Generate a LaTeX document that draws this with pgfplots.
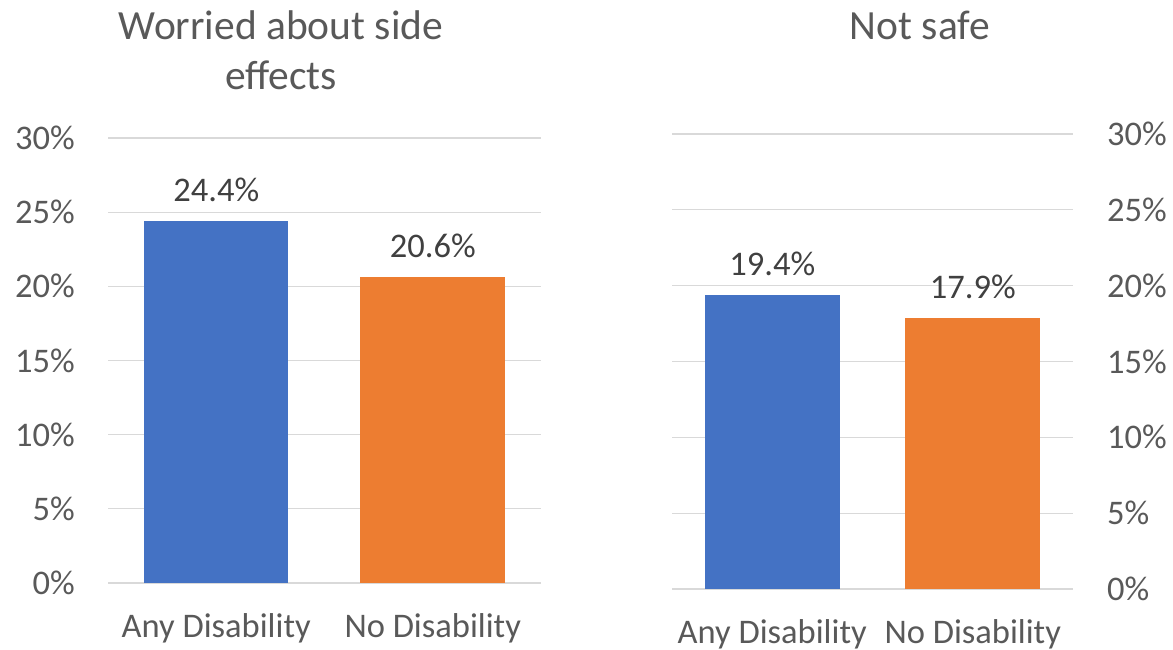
\documentclass[border=0pt]{standalone}
\usepackage{fontspec}
\setmainfont{Carlito}
\usepackage{pgfplots}
\pgfplotsset{compat=1.18}
\definecolor{xblue}{HTML}{4472C4}
\definecolor{xorange}{HTML}{ED7D31}
\definecolor{txtc}{HTML}{595959}
\definecolor{lblc}{HTML}{404040}
\definecolor{gridc}{HTML}{D9D9D9}
\pgfplotsset{
  panel/.style={
    scale only axis,
    ymin=0, ymax=30,
    ytick={0,5,10,15,20,25,30},
    yticklabels={0\%,5\%,10\%,15\%,20\%,25\%,30\%},
    xmin=-0.5, xmax=1.5,
    xtick={0,1},
    xticklabels={Any Disability,No Disability},
    axis line style={draw=none},
    major tick length=0pt,
    ymajorgrids,
    grid style={gridc, line width=1.2pt},
    tick label style={font=\fontsize{34.5}{41}\selectfont, text=txtc, inner sep=0pt},
    xticklabel style={anchor=base, yshift=-55pt},
    /pgf/number format/assume math mode=true,
    nodes near coords={\pgfmathprintnumber[fixed,fixed zerofill,precision=1]{\pgfplotspointmeta}\%},
    every node near coord/.append style={font=\fontsize{34.5}{41}\selectfont, text=lblc, inner sep=0pt, yshift=19pt},
  }
}
\begin{document}
\begin{tikzpicture}
\path[use as bounding box] (0pt,0pt) rectangle (1173pt,650pt);
% left panel
\begin{axis}[panel,
  at={(108pt,67pt)}, anchor=south west,
  width=433pt, height=445pt,
  yticklabel style={anchor=east, xshift=-33pt},
]
\addplot[ybar, fill=xblue, draw=none, bar width=144pt] coordinates {(0,24.4)};
\addplot[ybar, fill=xorange, draw=none, bar width=145pt] coordinates {(1,20.6)};
\end{axis}
% right panel
\begin{axis}[panel,
  at={(672pt,61pt)}, anchor=south west,
  width=401pt, height=455pt,
  yticklabel pos=right,
  yticklabel style={anchor=west, xshift=34pt},
]
\addplot[ybar, fill=xblue, draw=none, bar width=135pt] coordinates {(0,19.4)};
\addplot[ybar, fill=xorange, draw=none, bar width=135pt] coordinates {(1,17.9)};
\end{axis}
\node[anchor=base, font=\fontsize{41.5}{50}\selectfont, text=txtc, inner sep=0pt] at (281pt,610pt) {Worried about side};
\node[anchor=base, font=\fontsize{41.5}{50}\selectfont, text=txtc, inner sep=0pt] at (281pt,560pt) {effects};
\node[anchor=base, font=\fontsize{41.5}{50}\selectfont, text=txtc, inner sep=0pt] at (920pt,610pt) {Not safe};
\end{tikzpicture}
\end{document}
